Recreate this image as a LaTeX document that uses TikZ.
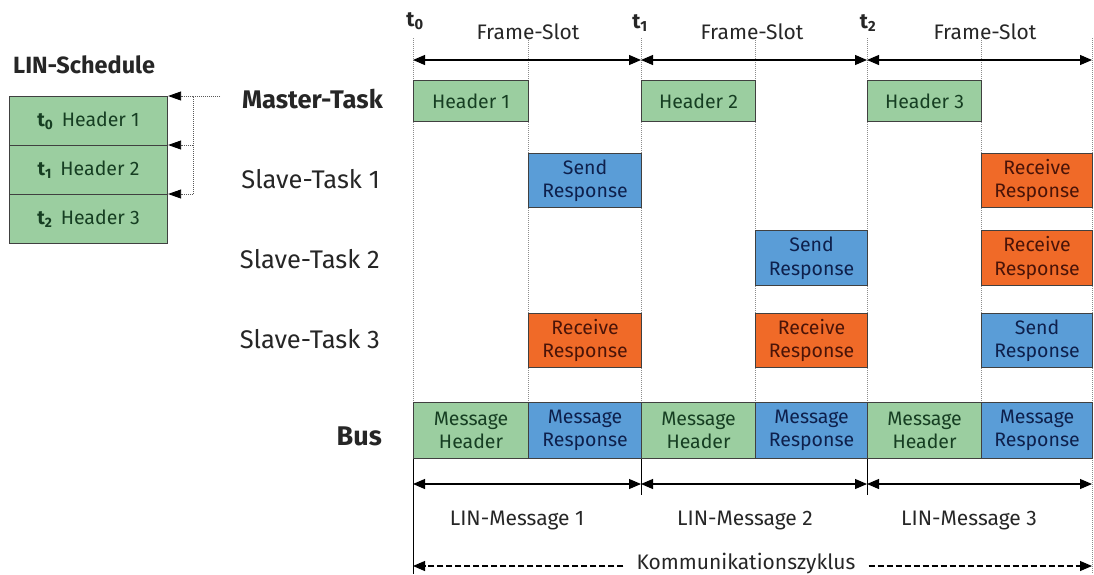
\documentclass[tikz,border=0pt]{standalone}
\usepackage{fontspec}
\setmainfont{Fira Sans}
\usetikzlibrary{arrows.meta}
\definecolor{hgreen}{RGB}{155,206,160}
\definecolor{hblue}{RGB}{90,157,215}
\definecolor{horange}{RGB}{240,106,40}
\definecolor{tgreen}{RGB}{22,62,34}
\definecolor{tblue}{RGB}{14,32,76}
\definecolor{torange}{RGB}{74,20,8}
\begin{document}
\begin{tikzpicture}[x=1pt,y=-1pt,
  guide/.style={draw=black!45, line width=0.6pt, dash pattern=on 1pt off 1pt},
  bx/.style={draw=black!75, line width=1.1pt, anchor=north west, inner sep=0pt, align=center, font=\fontsize{19.5}{23.5}\selectfont},
  gb/.style={bx, fill=hgreen, text=tgreen},
  bb/.style={bx, fill=hblue, text=tblue},
  ob/.style={bx, fill=horange, text=torange},
  dim/.style={line width=1.1pt, {Triangle[length=12pt,width=10pt]}-{Triangle[length=12pt,width=10pt]}},
  lbl/.style={font=\fontsize{21}{25}\selectfont, text=black!85, inner sep=0pt, anchor=base},
  rowlbl/.style={font=\fontsize{25.5}{30}\selectfont, text=black!85, inner sep=0pt, anchor=base east},
  dotline/.style={draw=black!65, line width=0.8pt, dash pattern=on 1pt off 1pt},
]
\useasboundingbox (0,0) rectangle (1094,574);

% vertical guide lines
\foreach \x in {413,528,641,755,867,981} \draw[guide] (\x,38) -- (\x,402);
\draw[guide] (1092,38) -- (1092,574);

% LIN schedule
\node[lbl, font=\fontsize{23.5}{28}\selectfont\bfseries, anchor=base west] (sched) at (13,73) {LIN-Schedule};
\node[gb, minimum width=158pt, minimum height=49pt] (s0) at (9,96) {\textbf{t\textsubscript{0}}\, Header 1};
\node[gb, minimum width=158pt, minimum height=49pt] (s1) at (9,145) {\textbf{t\textsubscript{1}}\, Header 2};
\node[gb, minimum width=158pt, minimum height=49pt] (s2) at (9,194) {\textbf{t\textsubscript{2}}\, Header 3};
\coordinate (in0) at (220,96);
\coordinate (c0) at (193,96);
\coordinate (c1) at (193,145);
\coordinate (c2) at (193,194);
\draw[dotline] (in0) -- (c0) -- (c2);
\draw[dotline, -{Triangle[length=13pt,width=9pt,fill=black,color=black]}] (c0) -- (s0.north east);
\draw[dotline, -{Triangle[length=13pt,width=9pt,fill=black,color=black]}] (c1) -- (s1.north east);
\draw[dotline, -{Triangle[length=13pt,width=9pt,fill=black,color=black]}] (c2) -- (s2.north east);

% time marks and frame slots
\node[lbl, font=\fontsize{21}{25}\selectfont\bfseries] (t0) at (415,26) {t\textsubscript{0}};
\node[lbl, font=\fontsize{21}{25}\selectfont\bfseries] (t1) at (640,28) {t\textsubscript{1}};
\node[lbl, font=\fontsize{21}{25}\selectfont\bfseries] (t2) at (868,28) {t\textsubscript{2}};
\node[lbl] (fs1) at (528,39) {Frame-Slot};
\node[lbl] (fs2) at (752,39) {Frame-Slot};
\node[lbl] (fs3) at (985,39) {Frame-Slot};
\coordinate (f0) at (413,60);
\coordinate (f1) at (641,60);
\coordinate (f2) at (867,60);
\coordinate (f3) at (1092,60);
\draw[dim] (f0) -- (f1);
\draw[dim] (f1) -- (f2);
\draw[dim] (f2) -- (f3);

% row labels
\node[rowlbl, font=\fontsize{25.5}{30}\selectfont\bfseries] (rm) at (383,108) {Master-Task};
\node[rowlbl] (r1) at (380,188) {Slave-Task 1};
\node[rowlbl] (r2) at (380,268) {Slave-Task 2};
\node[rowlbl] (r3) at (380,348) {Slave-Task 3};
\node[rowlbl, font=\fontsize{27}{31}\selectfont\bfseries] (rb) at (382,445) {Bus};

% master task
\node[gb, minimum width=115pt, minimum height=41pt] (h1) at (413,80) {Header 1};
\node[gb, minimum width=114pt, minimum height=41pt] (h2) at (641,80) {Header 2};
\node[gb, minimum width=114pt, minimum height=41pt] (h3) at (867,80) {Header 3};

% slave task 1
\node[bb, minimum width=113pt, minimum height=54pt] (a1) at (528,153) {Send\\Response};
\node[ob, minimum width=111pt, minimum height=54pt] (a3) at (981,153) {Receive\\Response};
% slave task 2
\node[bb, minimum width=112pt, minimum height=55pt] (b2) at (755,230) {Send\\Response};
\node[ob, minimum width=111pt, minimum height=55pt] (b3) at (981,230) {Receive\\Response};
% slave task 3
\node[ob, minimum width=113pt, minimum height=54pt] (c1b) at (528,313) {Receive\\Response};
\node[ob, minimum width=112pt, minimum height=54pt] (c2b) at (755,313) {Receive\\Response};
\node[bb, minimum width=111pt, minimum height=54pt] (c3b) at (981,313) {Send\\Response};

% bus
\node[gb, minimum width=115pt, minimum height=56pt] (m1) at (413,402) {Message\\Header};
\node[bb, minimum width=113pt, minimum height=56pt] (m2) at (528,402) {Message\\Response};
\node[gb, minimum width=114pt, minimum height=56pt] (m3) at (641,402) {Message\\Header};
\node[bb, minimum width=112pt, minimum height=56pt] (m4) at (755,402) {Message\\Response};
\node[gb, minimum width=114pt, minimum height=56pt] (m5) at (867,402) {Message\\Header};
\node[bb, minimum width=111pt, minimum height=56pt] (m6) at (981,402) {Message\\Response};

% lines below bus
\coordinate (e0) at (413,574);
\coordinate (e1) at (641,495);
\coordinate (e2) at (867,495);
\draw[line width=1pt] (m1.south west) -- (e0);
\draw[line width=1pt] (m3.south west) -- (e1);
\draw[line width=1pt] (m5.south west) -- (e2);

% LIN messages
\coordinate (l0) at (413,484);
\coordinate (l1) at (641,484);
\coordinate (l2) at (867,484);
\coordinate (l3) at (1092,484);
\draw[dim] (l0) -- (l1);
\draw[dim] (l1) -- (l2);
\draw[dim] (l2) -- (l3);
\node[lbl] (lm1) at (517,525) {LIN-Message 1};
\node[lbl] (lm2) at (745,525) {LIN-Message 2};
\node[lbl] (lm3) at (969,525) {LIN-Message 3};

% communication cycle
\node[lbl, inner xsep=13pt, anchor=center] (kz) at (746,564) {Kommunikationszyklus};
\coordinate (k0) at (413,566);
\coordinate (k1) at (1092,566);
\draw[line width=1.1pt, dash pattern=on 6pt off 3pt, -{Triangle[length=12pt,width=10pt]}] (kz.west |- k0) -- (k0);
\draw[line width=1.1pt, dash pattern=on 6pt off 3pt, -{Triangle[length=12pt,width=10pt]}] (kz.east |- k1) -- (k1);
\end{tikzpicture}
\end{document}
